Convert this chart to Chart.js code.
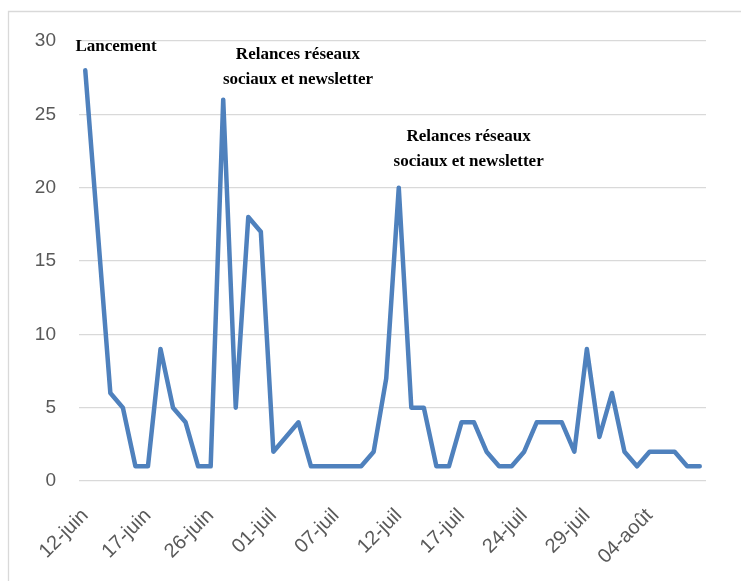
<!DOCTYPE html>
<html>
<head>
<meta charset="utf-8">
<script src="https://cdn.jsdelivr.net/npm/chart.js@4/dist/chart.umd.min.js"></script>
<style>
  html, body { margin: 0; padding: 0; background: #fff; }
  #wrap { width: 741px; height: 581px; position: relative; }
</style>
</head>
<body>
<div id="wrap"><canvas id="visits"></canvas></div>
<script>
// dates (one per day with data), only every 5th is printed on the axis
const dates = [
  "12-juin", "13-juin", "14-juin", "15-juin", "16-juin",
  "17-juin", "18-juin", "19-juin", "20-juin", "21-juin",
  "26-juin", "27-juin", "28-juin", "29-juin", "30-juin",
  "01-juil", "02-juil", "03-juil", "04-juil", "05-juil",
  "07-juil", "08-juil", "09-juil", "10-juil", "11-juil",
  "12-juil", "13-juil", "14-juil", "15-juil", "16-juil",
  "17-juil", "18-juil", "19-juil", "20-juil", "21-juil",
  "24-juil", "25-juil", "26-juil", "27-juil", "28-juil",
  "29-juil", "30-juil", "31-juil", "01-août", "02-août",
  "04-août", "05-août", "06-août", "07-août", "08-août"
];

const visits = [
  28, 17, 6, 5, 1, 1, 9, 5, 4, 1,
  1, 26, 5, 18, 17, 2, 3, 4, 1, 1,
  1, 1, 1, 2, 7, 20, 5, 5, 1, 1,
  4, 4, 2, 1, 1, 2, 4, 4, 4, 2,
  9, 3, 6, 2, 1, 2, 2, 2, 1, 1
];

const yTicks = [0, 5, 10, 15, 20, 25, 30];
const labelEvery = 5;

// notes placed in data coordinates (category index, value)
const notes = [
  { lines: ["Lancement"], at: 2.45, value: 29.6 },
  { lines: ["Relances réseaux", "sociaux et newsletter"], at: 16.96, value: 29.1 },
  { lines: ["Relances réseaux", "sociaux et newsletter"], at: 30.57, value: 23.5 }
];

const frame = {
  id: 'frame',
  beforeDraw(chart) {
    const ctx = chart.ctx;
    ctx.save();
    ctx.strokeStyle = '#d9d9d9';
    ctx.lineWidth = 1.3;
    ctx.beginPath();
    ctx.moveTo(8.5, chart.height);
    ctx.lineTo(8.5, 11.5);
    ctx.lineTo(chart.width, 11.5);
    ctx.stroke();
    ctx.restore();
  }
};

const noteText = {
  id: 'noteText',
  afterDatasetsDraw(chart) {
    const ctx = chart.ctx;
    const xs = chart.scales.x, ys = chart.scales.y;
    ctx.save();
    ctx.font = 'bold 17px "Liberation Serif", "DejaVu Serif", serif';
    ctx.fillStyle = '#000';
    ctx.textAlign = 'center';
    ctx.textBaseline = 'middle';
    notes.forEach(n => {
      const x = xs.getPixelForValue(n.at);
      const y = ys.getPixelForValue(n.value);
      n.lines.forEach((t, i) => ctx.fillText(t, x, y + i * 25));
    });
    ctx.restore();
  }
};

new Chart(document.getElementById('visits'), {
  type: 'line',
  data: {
    labels: dates,
    datasets: [{
      data: visits,
      borderColor: '#4f81bd',
      borderWidth: 4.5,
      borderJoinStyle: 'round',
      borderCapStyle: 'round',
      pointRadius: 0,
      tension: 0,
      fill: false
    }]
  },
  options: {
    responsive: true,
    maintainAspectRatio: false,
    animation: false,
    layout: { padding: { top: 41, right: 35, left: 0, bottom: 0 } },
    plugins: { legend: { display: false }, tooltip: { enabled: false } },
    scales: {
      x: {
        offset: true,
        grid: { display: false },
        border: { display: false },
        afterFit(scale) { scale.height = 100; },
        ticks: {
          autoSkip: false,
          maxRotation: 45,
          minRotation: 45,
          padding: 15,
          color: '#595959',
          font: { family: '"Liberation Sans", Arial, sans-serif', size: 20 },
          callback(v, i) { return i % labelEvery === 0 ? dates[i] : null; }
        }
      },
      y: {
        min: 0,
        max: 30,
        afterFit(scale) { scale.width = 79; },
        afterBuildTicks(scale) { scale.ticks = yTicks.map(v => ({ value: v })); },
        grid: { color: '#d9d9d9', lineWidth: 1.3, drawTicks: false },
        border: { display: false },
        ticks: {
          padding: 23,
          color: '#595959',
          font: { family: '"Liberation Sans", Arial, sans-serif', size: 19 }
        }
      }
    }
  },
  plugins: [frame, noteText]
});
</script>
</body>
</html>
